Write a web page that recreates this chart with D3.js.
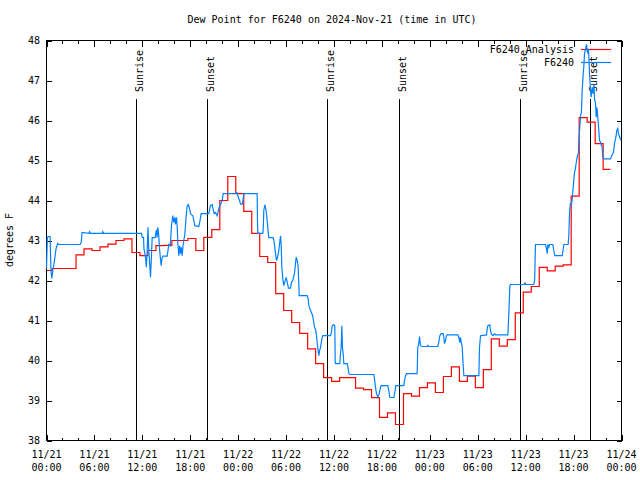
<!DOCTYPE html>
<html><head><meta charset="utf-8">
<script src="https://cdn.jsdelivr.net/npm/d3@7"></script>
<style>
body{margin:0;background:#fff}
svg{display:block}
text{font-family:"DejaVu Sans Mono",monospace;font-size:10px;fill:#000}
</style>
</head><body>
<svg id="chart" width="640" height="480"></svg>
<script>
// ---------------- data ----------------
const chartTitle = "Dew Point for F6240 on 2024-Nov-21 (time in UTC)";
const yAxisLabel = "degrees F";
const startUtc = Date.UTC(2024, 10, 21, 0, 0);
const yTickValues = [38, 39, 40, 41, 42, 43, 44, 45, 46, 47, 48];
const xMajorHours = [0, 6, 12, 18, 24, 30, 36, 42, 48, 54, 60, 66, 72];
const seriesNames = ["F6240 Analysis", "F6240"];
const eventNames = ["Sunrise", "Sunset", "Sunrise", "Sunset", "Sunrise", "Sunset"];
const eventHours = [11.2, 20.15, 35.18, 44.1, 59.25, 68.1];

// analysis (hourly values, step series)
const analysisDew = [42.25, 42.3, 42.3, 42.3, 42.64, 42.79, 42.75, 42.84, 42.91, 43.0,
  43.04, 42.7, 42.62, 42.75, 42.87, 42.88, 43.0, 43.0, 43.05, 42.75,
  43.08, 43.27, 44.0, 44.6, 44.17, 43.73, 43.18, 42.6, 42.45, 41.67,
  41.25, 40.95, 40.68, 40.29, 39.92, 39.57, 39.48, 39.57, 39.57, 39.31,
  39.27, 39.07, 38.58, 38.69, 38.4, 39.17, 39.11, 39.32, 39.44, 39.2,
  39.6, 39.84, 39.48, 39.61, 39.32, 39.77, 40.54, 40.36, 40.52, 41.19,
  41.71, 41.85, 42.33, 42.24, 42.36, 42.39, 44.11, 46.07, 45.96, 45.42, 44.78];
const analysisEndHour = 70.6;

// station observations (hours after start, dew point)
const obsHours = [0.0,0.1,0.2,0.45,0.55,0.66,0.8,1.0,1.2,1.4,1.5,4.2,4.35,4.45,5.3,5.4,5.5,7.0,7.05,7.15,
  11.9,12.0,12.15,12.2,12.4,12.5,12.6,12.7,12.8,12.95,13.02,13.12,13.23,13.6,13.77,13.85,13.94,14.05,14.15,14.25,
  14.36,14.45,14.57,15.11,15.32,15.5,15.65,15.82,15.95,16.07,16.15,16.28,16.37,16.45,16.57,16.68,16.78,16.88,16.99,17.11,
  17.32,17.49,17.62,17.75,17.91,18.03,18.32,18.45,18.57,19.07,19.2,19.37,20.33,20.45,20.54,20.75,20.87,21.0,21.16,21.37,
  21.58,21.7,21.79,22.0,22.12,23.67,23.85,23.96,24.17,24.29,24.5,24.6,24.71,26.38,26.42,26.46,27.09,27.15,27.21,27.34,
  27.45,27.55,27.65,27.76,27.84,28.38,28.48,28.59,28.71,28.8,28.93,29.09,29.21,29.3,29.38,29.47,29.59,29.72,29.84,30.01,
  30.14,30.3,30.55,30.68,30.85,31.05,31.15,31.26,31.39,31.51,31.6,31.64,32.64,32.77,32.85,33.06,33.18,33.35,33.56,33.7,
  33.81,33.98,34.1,34.2,34.31,34.42,34.52,34.6,35.56,35.68,35.77,35.95,36.1,36.15,36.19,36.73,36.81,36.9,36.98,37.06,
  37.15,37.23,37.65,37.75,37.86,37.98,40.99,41.1,41.2,41.32,41.49,41.66,41.82,41.91,42.74,42.86,42.99,43.49,43.61,43.74,
  44.74,44.83,44.95,45.08,46.41,46.49,46.62,46.71,46.76,46.83,47.04,47.67,47.75,47.87,49.0,49.12,49.25,49.42,49.67,49.75,
  49.84,49.96,50.09,50.17,51.5,51.63,51.75,51.84,51.93,52.05,52.18,52.26,54.14,54.22,54.35,55.1,55.18,55.26,55.51,55.6,
  55.72,55.93,56.1,56.22,57.77,57.89,58.02,58.1,59.86,59.92,59.98,61.02,61.12,61.23,62.48,62.6,62.7,62.78,62.9,63.0,
  63.4,63.52,63.65,64.57,64.68,64.78,65.32,65.4,65.49,65.6,65.75,65.85,65.95,66.1,66.25,66.37,66.5,66.6,66.66,66.79,
  66.87,66.98,67.08,67.2,67.29,67.37,67.5,67.62,67.7,67.79,67.85,67.92,68.0,68.12,68.2,68.33,68.45,68.55,68.62,68.75,
  68.83,68.9,68.97,69.03,69.16,69.25,69.37,69.5,69.58,69.66,69.79,70.62,70.8,71.0,71.12,71.25,71.33,71.41,71.54,71.62,
  71.75,71.87,72.0];
const obsDew = [42.3,43.05,43.1,43.1,42.3,42.05,42.25,42.5,42.8,42.93,42.9,42.9,42.95,43.2,43.18,43.22,43.18,43.18,43.22,43.18,
  43.18,43.08,43.08,42.8,42.58,42.33,42.7,43.33,42.8,42.33,42.08,42.5,43.07,43.07,43.27,43.07,43.33,43.15,42.8,42.58,
  42.37,42.55,42.61,42.61,42.9,42.87,43.37,43.62,43.45,43.58,43.4,43.58,43.33,42.9,42.62,42.87,42.67,42.83,42.62,42.9,
  43.15,43.62,43.87,43.9,43.8,43.67,43.62,43.5,43.37,43.35,43.47,43.67,43.67,43.8,43.87,43.9,43.77,43.67,43.7,43.62,
  43.8,43.87,43.9,44.0,44.17,44.17,44.2,44.12,44.0,43.92,43.9,44.0,44.17,44.17,43.46,43.18,43.18,43.33,43.75,43.89,
  43.8,43.67,43.46,43.2,43.07,43.07,43.0,42.83,42.62,42.5,42.58,42.75,42.96,43.12,42.92,42.33,42.04,41.87,41.96,42.08,
  41.96,41.81,41.81,41.96,42.0,42.18,42.37,42.58,42.5,42.35,41.87,41.62,41.62,41.54,41.37,41.25,41.2,41.1,40.83,40.77,
  40.62,40.29,40.12,40.25,40.33,40.46,40.58,40.62,40.62,40.7,40.87,40.9,40.87,39.96,39.92,39.92,40.17,40.33,40.87,40.33,
  40.17,39.92,39.92,39.83,39.68,39.65,39.65,39.5,39.32,39.17,39.08,39.17,39.32,39.37,39.37,39.25,39.08,39.07,39.2,39.37,
  39.37,39.5,39.62,39.67,39.67,40.33,40.42,40.6,40.5,40.37,40.35,40.35,40.38,40.35,40.35,40.45,40.62,40.67,40.67,40.58,
  40.42,40.5,40.62,40.64,40.64,40.58,40.45,40.58,40.45,40.35,39.87,39.62,39.62,40.33,40.62,40.64,40.8,40.87,40.89,40.75,
  40.65,40.62,40.67,40.64,40.64,41.17,41.87,41.9,41.9,41.95,41.9,41.9,42.0,42.9,42.9,42.8,42.67,42.9,42.83,42.9,
  42.9,42.75,42.62,42.62,42.75,42.9,42.9,43.12,43.67,43.92,43.92,44.08,44.33,44.67,44.83,45.0,45.13,45.17,45.5,45.87,
  46.12,46.2,46.75,47.17,47.37,47.67,47.79,47.9,47.75,47.67,47.79,47.58,47.17,46.75,46.58,46.83,46.67,46.92,46.54,46.42,
  46.08,46.33,46.25,46.08,45.75,45.5,45.46,45.37,45.33,45.08,45.04,45.04,45.13,45.21,45.42,45.54,45.63,45.75,45.8,45.67,
  45.6,45.52,45.52];

// ---------------- drawing ----------------
const colorAnalysis = "#ff0000";
const colorObs = "#0080ff";
const hourMs = 3600 * 1000;
const toDate = h => new Date(startUtc + h * hourMs);

const svg = d3.select("#chart");
const L = 46.5, R = 621.5, T = 40.5, B = 440.5;

const x = d3.scaleUtc().domain([toDate(0), toDate(72)]).range([L, R]);
const y = d3.scaleLinear().domain([38, 48]).range([B, T]);

svg.append("rect").attr("width", 640).attr("height", 480).attr("fill", "#fff");

// title
svg.append("text").attr("x", 332).attr("y", 23).attr("text-anchor", "middle").text(chartTitle);

// axes ticks (inward, mirrored)
const majorDates = xMajorHours.map(toDate);
const minorDates = d3.utcHour.every(2).range(toDate(0), toDate(72)).filter(d => !majorDates.some(m => +m === +d));

function styleAxis(g) {
  g.select(".domain").remove();
  g.selectAll("line").attr("stroke", "#000").attr("stroke-width", 1).attr("shape-rendering", "crispEdges");
  g.selectAll("text").remove();
}
svg.append("g").attr("transform", `translate(0,${B})`)
  .call(d3.axisBottom(x).tickValues(majorDates).tickSizeInner(-6).tickSizeOuter(0)).call(styleAxis);
svg.append("g").attr("transform", `translate(0,${B})`)
  .call(d3.axisBottom(x).tickValues(minorDates).tickSizeInner(-3).tickSizeOuter(0)).call(styleAxis);
svg.append("g").attr("transform", `translate(0,${T})`)
  .call(d3.axisTop(x).tickValues(majorDates).tickSizeInner(-6).tickSizeOuter(0)).call(styleAxis);
svg.append("g").attr("transform", `translate(0,${T})`)
  .call(d3.axisTop(x).tickValues(minorDates).tickSizeInner(-3).tickSizeOuter(0)).call(styleAxis);
svg.append("g").attr("transform", `translate(${L},0)`)
  .call(d3.axisLeft(y).tickValues(yTickValues).tickSizeInner(-5).tickSizeOuter(0)).call(styleAxis);
svg.append("g").attr("transform", `translate(${R},0)`)
  .call(d3.axisRight(y).tickValues(yTickValues).tickSizeInner(-5).tickSizeOuter(0)).call(styleAxis);

// y tick labels
svg.append("g").selectAll("text").data(yTickValues).join("text")
  .attr("x", 40).attr("y", d => y(d)).attr("dy", "0.36em")
  .attr("text-anchor", "end").text(d => d);

// x tick labels (two lines)
const fmtDate = d3.utcFormat("%m/%d"), fmtTime = d3.utcFormat("%H:%M");
const xl = svg.append("g").selectAll("text").data(majorDates).join("text")
  .attr("text-anchor", "middle");
xl.append("tspan").attr("x", d => x(d)).attr("y", 458).text(fmtDate);
xl.append("tspan").attr("x", d => x(d)).attr("y", 471).text(fmtTime);

// y axis label
svg.append("text").attr("transform", "translate(13,240) rotate(-90)")
  .attr("text-anchor", "middle").text(yAxisLabel);

// frame
svg.append("rect").attr("x", L).attr("y", T).attr("width", R - L).attr("height", B - T)
  .attr("fill", "none").attr("stroke", "#000").attr("shape-rendering", "crispEdges");

// sunrise / sunset markers
const ev = svg.append("g");
eventHours.forEach((h, i) => {
  const px = Math.round(x(toDate(h))) + 0.5;
  ev.append("line").attr("x1", px).attr("x2", px).attr("y1", 99).attr("y2", B)
    .attr("stroke", "#000").attr("stroke-width", 1).attr("shape-rendering", "crispEdges");
  ev.append("text").attr("transform", `translate(${px + 6},92) rotate(-90)`)
    .attr("text-anchor", "start").text(eventNames[i]);
});

// legend
const legendY = [53, 66];
const legendColors = [colorAnalysis, colorObs];
seriesNames.forEach((n, i) => {
  svg.append("text").attr("x", 574).attr("y", legendY[i]).attr("text-anchor", "end").text(n);
  svg.append("line").attr("x1", 581).attr("x2", 611)
    .attr("y1", legendY[i] - 3.5).attr("y2", legendY[i] - 3.5)
    .attr("stroke", legendColors[i]).attr("stroke-width", 1.2);
});

// analysis series (step)
const analysisPts = analysisDew.map((v, k) => [Math.max(0, k - 0.3), v]);
analysisPts.push([analysisEndHour, analysisDew[analysisDew.length - 1]]);
const stepLine = d3.line().curve(d3.curveStepAfter)
  .x(d => x(toDate(d[0]))).y(d => y(d[1]));
svg.append("path").datum(analysisPts).attr("d", stepLine)
  .attr("fill", "none").attr("stroke", colorAnalysis).attr("stroke-width", 1.2);

// observation series
const obsPts = obsHours.map((h, i) => [h, obsDew[i]]);
const obsLine = d3.line().x(d => x(toDate(d[0]))).y(d => y(d[1]));
svg.append("path").datum(obsPts).attr("d", obsLine)
  .attr("fill", "none").attr("stroke", colorObs).attr("stroke-width", 1.2);
</script>
</body></html>
